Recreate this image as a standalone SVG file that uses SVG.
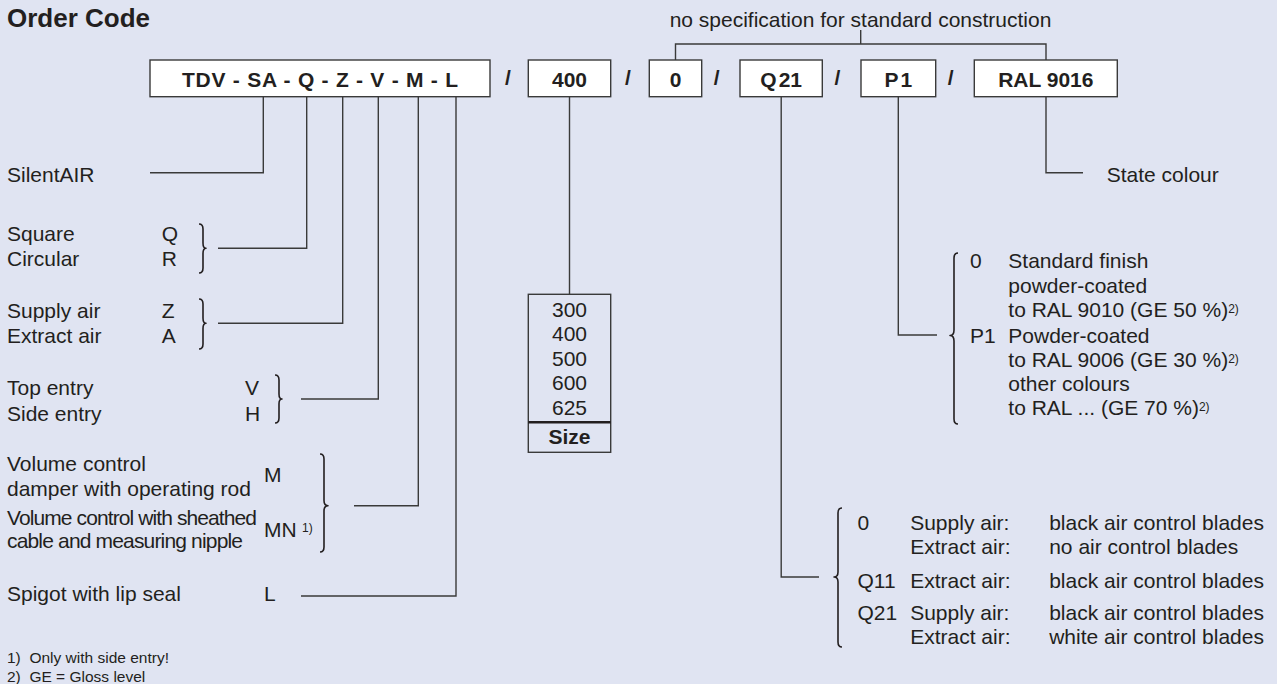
<svg xmlns="http://www.w3.org/2000/svg" width="1277" height="684" viewBox="0 0 1277 684">
<style>
.t{font-family:"Liberation Sans",Arial,Helvetica,sans-serif;font-size:21px;fill:#231f20}
.b{font-weight:bold}
.m{text-anchor:middle}
.sup{font-size:12px}
.fn{font-size:15.5px}
.box{fill:#ffffff;stroke:#3a3a3a;stroke-width:1.4}
.ln{fill:none;stroke:#3a3a3a;stroke-width:1.4}
.br{fill:none;stroke:#231f20;stroke-width:1.6;stroke-linejoin:round}
</style>
<rect x="0" y="0" width="1277" height="684" fill="#e0e4f2"/>
<text class="t b" x="7" y="27" style="font-size:26px">Order Code</text>
<text class="t m" x="860.5" y="27">no specification for standard construction</text>

<g id="connectors">
<path class="ln" d="M675.5 60 V44 H1046 V60 M860.7 44 V30"/>
<path class="ln" d="M263.3 97 V172.7 H150"/>
<path class="ln" d="M306.7 97 V248.3 H218"/>
<path class="ln" d="M342.7 97 V323.3 H218"/>
<path class="ln" d="M378.3 97 V399 H301"/>
<path class="ln" d="M418.3 97 V505.7 H354"/>
<path class="ln" d="M456 97 V596 H301"/>
<path class="ln" d="M569.5 97 V294.3"/>
<path class="ln" d="M781.2 97 V577 H819"/>
<path class="ln" d="M898.3 97 V335 H937"/>
<path class="ln" d="M1046 97 V172.7 H1083"/>
</g>

<g id="node-main">
<rect class="box" x="150" y="60" width="340" height="36.7"/>
<text class="t b m" x="320" y="87" textLength="276" lengthAdjust="spacing">TDV - SA - Q - Z - V - M - L</text>
</g>
<g id="slashes">
<text class="t b m" x="508" y="85">/</text>
<text class="t b m" x="628" y="85">/</text>
<text class="t b m" x="716.7" y="85">/</text>
<text class="t b m" x="837.3" y="85">/</text>
<text class="t b m" x="950.7" y="85">/</text>
</g>
<g id="node-400">
<rect class="box" x="528.3" y="60" width="82.4" height="36.7"/>
<text class="t b m" x="569.5" y="87">400</text>
</g>
<g id="node-0">
<rect class="box" x="649.3" y="60" width="52.4" height="36.7"/>
<text class="t b m" x="675.5" y="87">0</text>
</g>
<g id="node-q21">
<rect class="box" x="740" y="60" width="82.3" height="36.7"/>
<text class="t b m" x="781.2" y="87">Q<tspan dx="2">21</tspan></text>
</g>
<g id="node-p1">
<rect class="box" x="861" y="60" width="74.7" height="36.7"/>
<text class="t b m" x="898.3" y="87">P<tspan dx="2">1</tspan></text>
</g>
<g id="node-ral">
<rect class="box" x="974.3" y="60" width="143" height="36.7"/>
<text class="t b m" x="1045.8" y="87">RAL 9016</text>
</g>

<g id="node-silentair">
<text class="t" x="7" y="182">SilentAIR</text>
</g>
<g id="node-shape">
<text class="t" x="7" y="240.7">Square</text>
<text class="t" x="7" y="266">Circular</text>
<text class="t" x="161.7" y="240.7">Q</text>
<text class="t" x="161.7" y="266">R</text>
<path class="br" d="M199 224 Q203 224 203 229 V243 Q203 248.3 206 248.3 Q203 248.3 203 253.6 V268 Q203 273 199 273"/>
</g>
<g id="node-air">
<text class="t" x="7" y="317.7">Supply air</text>
<text class="t" x="7" y="342.7">Extract air</text>
<text class="t" x="161.7" y="317.7">Z</text>
<text class="t" x="161.7" y="342.7">A</text>
<path class="br" d="M199 299 Q203 299 203 304 V318 Q203 323.3 206 323.3 Q203 323.3 203 328.6 V344 Q203 349 199 349"/>
</g>
<g id="node-entry">
<text class="t" x="7" y="395">Top entry</text>
<text class="t" x="7" y="420.5">Side entry</text>
<text class="t" x="245" y="395">V</text>
<text class="t" x="245" y="420.5">H</text>
<path class="br" d="M275 375 Q279 375 279 380 V394 Q279 399 282 399 Q279 399 279 404 V418 Q279 423 275 423"/>
</g>
<g id="node-damper">
<text class="t" x="7" y="471">Volume control</text>
<text class="t" x="7" y="496">damper with operating rod</text>
<text class="t" x="7" y="525" textLength="250" lengthAdjust="spacing">Volume control with sheathed</text>
<text class="t" x="7" y="548.3" textLength="236" lengthAdjust="spacing">cable and measuring nipple</text>
<text class="t" x="264" y="481.7">M</text>
<text class="t" x="264" y="536.7">MN</text>
<text class="t sup" x="302" y="532">1)</text>
<path class="br" d="M320 454 Q324 454 324 459 V500.5 Q324 505.7 328 505.7 Q324 505.7 324 511 V547 Q324 552 320 552"/>
</g>
<g id="node-spigot">
<text class="t" x="7" y="600.7">Spigot with lip seal</text>
<text class="t" x="264" y="600.7">L</text>
</g>

<g id="node-size">
<rect class="box" x="528.3" y="294.3" width="82.4" height="158" style="fill:none"/>
<line x1="528.3" y1="422.3" x2="610.7" y2="422.3" stroke="#231f20" stroke-width="2.5"/>
<text class="t m" x="569.5" y="316.7">300</text>
<text class="t m" x="569.5" y="341.2">400</text>
<text class="t m" x="569.5" y="365.7">500</text>
<text class="t m" x="569.5" y="390.2">600</text>
<text class="t m" x="569.5" y="414.5">625</text>
<text class="t b m" x="569.5" y="444.3">Size</text>
</g>

<g id="node-colour">
<text class="t" x="1106.7" y="181.7">State colour</text>
</g>

<g id="node-finish">
<path class="br" d="M958 253 Q954 253 954 258 V330 Q954 335.5 950 335.5 Q954 335.5 954 341 V419 Q954 424 958 424"/>
<text class="t" x="970" y="268.3">0</text>
<text class="t" x="1008.3" y="268.3">Standard finish</text>
<text class="t" x="1008.3" y="293">powder-coated</text>
<text class="t" x="1008.3" y="317">to RAL 9010 (GE 50 %)<tspan class="sup" dy="-4">2)</tspan></text>
<text class="t" x="970" y="342.7">P1</text>
<text class="t" x="1008.3" y="342.7">Powder-coated</text>
<text class="t" x="1008.3" y="366.7">to RAL 9006 (GE 30 %)<tspan class="sup" dy="-4">2)</tspan></text>
<text class="t" x="1008.3" y="390.7">other colours</text>
<text class="t" x="1008.3" y="415">to RAL ... (GE 70 %)<tspan class="sup" dy="-4">2)</tspan></text>
</g>

<g id="node-blades">
<path class="br" d="M842 508 Q838 508 838 513 V572 Q838 577 834 577 Q838 577 838 582 V642 Q838 647 842 647"/>
<text class="t" x="857.5" y="530">0</text>
<text class="t" x="910.2" y="530">Supply air:</text>
<text class="t" x="1049.2" y="530">black air control blades</text>
<text class="t" x="910.2" y="554">Extract air:</text>
<text class="t" x="1049.2" y="554">no air control blades</text>
<text class="t" x="857.5" y="587.5">Q11</text>
<text class="t" x="910.2" y="587.5">Extract air:</text>
<text class="t" x="1049.2" y="587.5">black air control blades</text>
<text class="t" x="857.5" y="620">Q21</text>
<text class="t" x="910.2" y="620">Supply air:</text>
<text class="t" x="1049.2" y="620">black air control blades</text>
<text class="t" x="910.2" y="644">Extract air:</text>
<text class="t" x="1049.2" y="644">white air control blades</text>
</g>

<g id="footnotes">
<text class="t fn" x="7" y="662.7" xml:space="preserve">1)  Only with side entry!</text>
<text class="t fn" x="7" y="681.5" xml:space="preserve">2)  GE = Gloss level</text>
</g>
</svg>
